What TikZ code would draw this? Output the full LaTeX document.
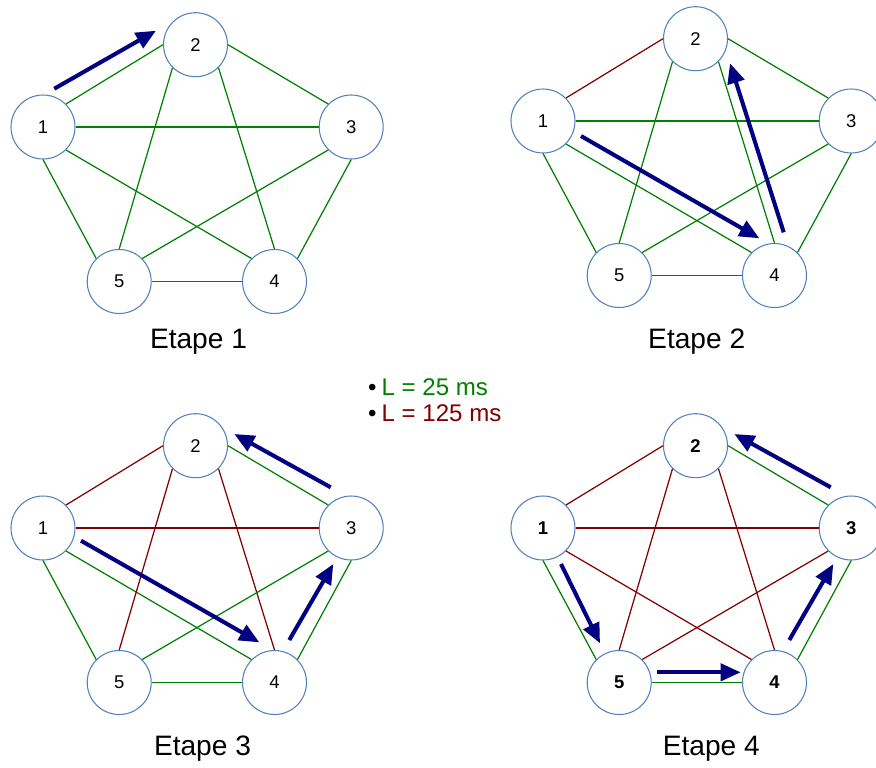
\documentclass[tikz,border=0pt]{standalone}
\usepackage{fontspec}
\setmainfont{Liberation Sans}
\usepackage{xcolor}
\usetikzlibrary{arrows.meta,calc}

\definecolor{nodeblue}{RGB}{79,129,189}
\definecolor{fastgreen}{RGB}{0,128,0}
\definecolor{slowred}{RGB}{128,0,0}
\definecolor{movenavy}{RGB}{0,0,128}

\tikzset{
	site/.style={circle,draw=nodeblue,line width=0.6pt,fill=white,minimum size=12.8mm,inner sep=0pt,font=\fontsize{10.5}{12}\selectfont},
	boldsite/.style={site,font=\fontsize{10.5}{12}\selectfont\bfseries},
	fast/.style={draw=fastgreen,line width=0.7pt},
	slow/.style={draw=slowred,line width=0.7pt},
	move/.style={draw=movenavy,line width=2.3pt,-{Triangle[length=4mm,width=3.4mm]}},
	stagelabel/.style={anchor=base,font=\fontsize{16}{19}\selectfont},
	legend/.style={anchor=base west,font=\fontsize{13.7}{16}\selectfont},
}

\begin{document}
\begin{tikzpicture}[x=0.2mm,y=-0.2mm]
	\useasboundingbox (0,0) rectangle (876,767);
	
	% Etape 1
	\begin{scope}
		\node[site] (a1) at (43,127) {1};
		\node[site] (a2) at (195.5,44.7) {2};
		\node[site] (a3) at (351.2,127) {3};
		\node[site] (a4) at (274.5,281.5) {4};
		\node[site] (a5) at (119.2,281.5) {5};
		
		\foreach \u/\v/\c in {1.north east/2.west/fast, 1.east/3.west/fast, 1.south east/4.north west/fast,
			1.south/5.north west/fast, 2.east/3.north west/fast, 2.south east/4.north/fast,
			2.south west/5.north/fast, 3.south/4.north east/fast, 3.south west/5.north east/fast}
			\draw[\c] (a\u) -- (a\v);
		\draw[fast,line width=1pt] (a5.east) -- (a4.west);
		
		\draw[move] ($(a1)+(11.3,-38.3)$) -- ($(a2)+(-39.5,-14)$);
		
		\node[stagelabel] (lab1) at (198.5,348.5) {Etape 1};
	\end{scope}
	
	% Etape 2
	\begin{scope}[shift={(500,-6)}]
		\node[site] (b1) at (43,127) {1};
		\node[site] (b2) at (195.5,44.7) {2};
		\node[site] (b3) at (351.2,127) {3};
		\node[site] (b4) at (274.5,281.5) {4};
		\node[site] (b5) at (119.2,281.5) {5};
		
		\foreach \u/\v/\c in {1.north east/2.west/slow, 1.east/3.west/fast, 1.south east/4.north west/fast,
			1.south/5.north west/fast, 2.east/3.north west/fast, 2.south east/4.north/fast,
			2.south west/5.north/fast, 3.south/4.north east/fast, 3.south west/5.north east/fast}
			\draw[\c] (b\u) -- (b\v);
		\draw[fast,line width=1pt] (b5.east) -- (b4.west);
		
		\draw[move] ($(b1)+(38,15)$) -- ($(b4)+(-15.2,-37.2)$);
		\draw[move] ($(b4)+(9.2,-43.2)$) -- ($(b2)+(34.5,24.6)$);
		
		\node[stagelabel] (lab2) at (196.7,354) {Etape 2};
	\end{scope}
	
	% legend
	\node[legend] (legfast) at (362,395) {\textbullet\hspace{1mm}\textcolor{fastgreen}{L = 25 ms}};
	\node[legend] (legslow) at (362,421) {\textbullet\hspace{1mm}\textcolor{slowred}{L = 125 ms}};
	
	% Etape 3
	\begin{scope}[shift={(0,401)}]
		\node[site] (c1) at (43,127) {1};
		\node[site] (c2) at (195.5,44.7) {2};
		\node[site] (c3) at (351.2,127) {3};
		\node[site] (c4) at (274.5,281.5) {4};
		\node[site] (c5) at (119.2,281.5) {5};
		
		\foreach \u/\v/\c in {1.north east/2.west/slow, 1.east/3.west/slow, 1.south east/4.north west/fast,
			1.south/5.north west/fast, 2.east/3.north west/fast, 2.south east/4.north/slow,
			2.south west/5.north/slow, 3.south/4.north east/fast, 3.south west/5.north east/fast}
			\draw[\c] (c\u) -- (c\v);
		\draw[fast,line width=1pt] (c5.east) -- (c4.west);
		
		\draw[move] ($(c1)+(38,12.7)$) -- ($(c4)+(-15.2,-40.2)$);
		\draw[move] ($(c4)+(14.8,-42.5)$) -- ($(c3)+(-17.9,36)$);
		\draw[move] ($(c3)+(-20.5,-40.7)$) -- ($(c2)+(38.8,-11.7)$);
		
		\node[stagelabel] (lab3) at (202.5,354) {Etape 3};
	\end{scope}
	
	% Etape 4
	\begin{scope}[shift={(500,401)}]
		\node[boldsite] (d1) at (43,127) {1};
		\node[boldsite] (d2) at (195.5,44.7) {2};
		\node[boldsite] (d3) at (351.2,127) {3};
		\node[boldsite] (d4) at (274.5,281.5) {4};
		\node[boldsite] (d5) at (119.2,281.5) {5};
		
		\foreach \u/\v/\c in {1.north east/2.west/slow, 1.east/3.west/slow, 1.south east/4.north west/slow,
			1.south/5.north west/fast, 2.east/3.north west/fast, 2.south east/4.north/slow,
			2.south west/5.north/slow, 3.south/4.north east/fast, 3.south west/5.north east/slow}
			\draw[\c] (d\u) -- (d\v);
		\draw[fast,line width=1pt] (d5.east) -- (d4.west);
		
		\draw[move] ($(d1)+(18,36)$) -- ($(d5)+(-19.2,-39.2)$);
		\draw[move] ($(d5)+(38.1,-10.2)$) -- ($(d4)+(-33.8,-10.2)$);
		\draw[move] ($(d4)+(14.8,-42.5)$) -- ($(d3)+(-17.9,36)$);
		\draw[move] ($(d3)+(-20.5,-40.7)$) -- ($(d2)+(38.8,-11.7)$);
		
		\node[stagelabel] (lab4) at (211.3,354) {Etape 4};
	\end{scope}
\end{tikzpicture}
\end{document}
